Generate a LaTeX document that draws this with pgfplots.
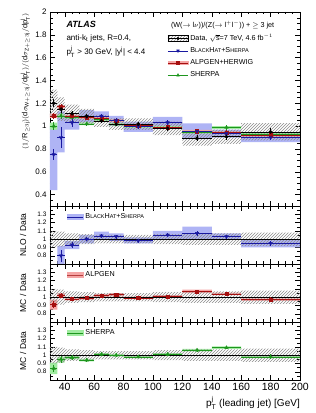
\documentclass[border=0pt]{standalone}
\usepackage{fontspec}
\setmainfont{Liberation Sans}
\usepackage{amsmath}
\usepackage{pgfplots}
\pgfplotsset{compat=1.18}
\usepackage{pgfplotstable}
\usepgfplotslibrary{fillbetween}
\usetikzlibrary{patterns}

\definecolor{bhblue}{RGB}{25,25,160}
\definecolor{bhband}{RGB}{175,180,245}
\definecolor{alpred}{RGB}{165,15,15}
\definecolor{alpband}{RGB}{245,165,165}
\definecolor{shgreen}{RGB}{30,150,30}
\definecolor{shband}{RGB}{160,235,160}
\definecolor{hatch}{RGB}{140,140,140}

\newcommand{\smc}[1]{{\fontsize{5.5}{6}\selectfont #1}}
\newcommand{\BH}{B\smc{LACK}H\smc{AT}+S\smc{HERPA}}

% main panel points
\pgfplotstableread{
x ex data dstat alp astat bh bstat sh sstat
32.5 2.5 1.200 0.035 1.090 0.025 0.750 0.050 1.000 0.035
37.5 2.5 1.148 0.030 1.170 0.025 0.900 0.090 1.090 0.030
45 5 1.110 0.025 1.088 0.020 1.030 0.040 1.077 0.020
55 5 1.085 0.020 1.074 0.015 1.085 0.020 1.020 0.015
65 5 1.046 0.020 1.067 0.015 1.088 0.020 1.056 0.015
75 5 1.017 0.020 1.047 0.015 1.048 0.020 1.017 0.015
90 10 1.017 0.020 1.007 0.015 0.997 0.020 0.997 0.015
110 10 0.980 0.020 0.990 0.015 1.030 0.020 0.990 0.015
130 10 0.893 0.025 0.955 0.020 0.955 0.020 0.947 0.020
150 10 0.907 0.025 0.943 0.020 0.934 0.020 0.988 0.020
180 20 0.950 0.030 0.920 0.020 0.900 0.020 0.930 0.020
}\mainpts

% main panel bands (left bin edges, last row closes the last bin)
\pgfplotstableread{
xl dlo dhi blo bhi alo ahi slo shi
30 1.08 1.32 0.44 1.00 1.07 1.11 0.97 1.03
35 1.045 1.251 0.77 1.13 1.155 1.185 1.075 1.105
40 1.032 1.188 0.97 1.10 1.075 1.10 1.065 1.09
50 1.02 1.15 1.03 1.14 1.062 1.086 1.008 1.032
60 0.994 1.098 1.04 1.13 1.055 1.079 1.044 1.068
70 0.966 1.068 1.00 1.09 1.035 1.059 1.005 1.029
80 0.966 1.068 0.95 1.04 0.995 1.019 0.985 1.009
100 0.921 1.039 0.98 1.08 0.978 1.002 0.978 1.002
120 0.83 0.956 0.885 1.025 0.943 0.967 0.935 0.959
140 0.844 0.97 0.90 0.97 0.931 0.955 0.976 1.000
160 0.874 1.026 0.86 0.94 0.908 0.932 0.918 0.942
200 0.874 1.026 0.86 0.94 0.908 0.932 0.918 0.942
}\mainband

% ratio points
\pgfplotstableread{
x ex alp aerr sh serr
32.5 2.5 0.91 0.04 0.84 0.04
37.5 2.5 1.02 0.035 0.95 0.04
45 5 0.98 0.025 0.97 0.03
55 5 0.99 0.02 0.94 0.02
65 5 1.02 0.02 1.01 0.02
75 5 1.03 0.02 1.00 0.02
90 10 0.99 0.02 0.98 0.02
110 10 1.01 0.02 1.01 0.02
130 10 1.07 0.02 1.06 0.02
150 10 1.04 0.02 1.09 0.02
180 20 0.97 0.03 0.98 0.03
}\ratiopts
\pgfplotstableread{
x ex nlo nerr
37.5 2.5 0.80 0.07
45 5 0.93 0.035
55 5 1.00 0.025
65 5 1.04 0.025
75 5 1.03 0.025
90 10 0.98 0.02
110 10 1.05 0.025
130 10 1.07 0.03
150 10 1.03 0.025
180 20 0.95 0.03
}\nlopts

% ratio bands
\pgfplotstableread{
xl drlo drhi alo ahi slo shi
30 0.90 1.10 0.85 0.97 0.77 0.91
35 0.91 1.09 0.99 1.05 0.91 0.98
40 0.93 1.07 0.96 1.00 0.95 0.99
50 0.94 1.06 0.97 1.01 0.925 0.955
60 0.95 1.05 1.00 1.04 0.995 1.025
70 0.95 1.05 1.01 1.05 0.985 1.015
80 0.95 1.05 0.975 1.005 0.965 0.995
100 0.94 1.06 0.995 1.025 0.995 1.025
120 0.93 1.07 1.05 1.09 1.045 1.075
140 0.93 1.07 1.025 1.055 1.075 1.105
160 0.92 1.08 0.955 0.985 0.965 0.995
200 0.92 1.08 0.955 0.985 0.965 0.995
}\ratioband
\pgfplotstableread{
xl lo hi
35 0.65 0.92
40 0.88 0.98
50 0.95 1.05
60 0.99 1.09
70 0.98 1.07
80 0.95 1.02
100 1.00 1.10
120 0.99 1.15
140 0.99 1.07
160 0.90 1.00
200 0.90 1.00
}\nloband

\pgfplotsset{
  every axis/.append style={
    scale only axis, width=250pt, xmin=30, xmax=200,
    xtick={20,40,...,200}, minor x tick num=3,
    tick align=inside, major tick length=5pt, minor tick length=2.5pt,
    /pgf/number format/assume math mode=true,
    tick style={black, line width=0.4pt},
    axis line style={line width=0.5pt},
  },
  errs/.style={only marks, error bars/x dir=both, error bars/x explicit, error bars/y dir=both, error bars/y explicit, error bars/error mark=none},
  bandline/.style={const plot, draw=none, forget plot},
  ratio/.style={
    height=58pt, ymin=0.7, ymax=1.4,
    ytick={0.7,0.8,0.9,1,1.1,1.2,1.3,1.4},
    yticklabels={,0.8,0.9,1,1.1,1.2,1.3,},
    minor y tick num=1,
    yticklabel style={font=\fontsize{6.5}{7}\selectfont},
    ylabel style={at={(axis description cs:-0.108,0.5)}, anchor=center, font=\fontsize{8.5}{9}\selectfont},
    legend style={at={(axis description cs:0.066,0.81)}, anchor=west, draw=none, fill=none, inner sep=0pt,
      font=\fontsize{7.2}{8}\selectfont, /tikz/every even column/.append style={column sep=3pt}},
  },
}

\begin{document}
\begin{tikzpicture}
% ---------------- main panel ----------------
\begin{axis}[at={(0pt,174pt)}, anchor=south west, height=194pt,
  ymin=0.3, ymax=2, ytick={0.2,0.4,...,2.0}, minor y tick num=3,
  xticklabels={},
  yticklabel style={font=\fontsize{8}{9}\selectfont},
  ylabel={$(1/\text{R}_{\geq 3\text{j}})(\text{d}\sigma_{\text{W}+\geq 3\text{j}}/\text{dp}^{\text{j}}_{\text{T}})/(\text{d}\sigma_{\text{Z}+\geq 3\text{j}}/\text{dp}^{\text{j}}_{\text{T}})$},
  ylabel style={at={(axis description cs:-0.1,1.01)}, anchor=east, font=\fontsize{7.5}{8}\selectfont},
  legend style={at={(axis description cs:0.47,0.895)}, anchor=north west, draw=none, fill=none, inner sep=0pt,
    font=\fontsize{7.2}{8}\selectfont, row sep=1.4pt, legend cell align=left,
    /tikz/every even column/.append style={column sep=3pt}},
]
\addlegendimage{legend image code/.code={
  \fill[pattern=north east lines, pattern color=hatch] (0pt,-3pt) rectangle (20pt,3pt);
  \draw[black, line width=0.6pt] (0pt,0pt)--(20pt,0pt);
  \fill[black] (10pt,0pt) circle (1.4pt);}}
\addlegendentry{Data, $\sqrt{\text{s}}$=7 TeV, 4.6 fb$^{-1}$}
\addlegendimage{legend image code/.code={
  \draw[bhblue, line width=0.6pt] (0pt,0pt)--(20pt,0pt);
  \fill[bhblue] (8.6pt,1.2pt)--(11.4pt,1.2pt)--(10pt,-1.4pt)--cycle;}}
\addlegendentry{\BH}
\addlegendimage{legend image code/.code={
  \fill[alpband] (0pt,-1.6pt) rectangle (20pt,1.6pt);
  \draw[alpred, line width=0.5pt] (0pt,0pt)--(20pt,0pt);
  \fill[alpred] (8.5pt,-1.5pt) rectangle (11.5pt,1.5pt);}}
\addlegendentry{ALPGEN+HERWIG}
\addlegendimage{legend image code/.code={
  \draw[shgreen, line width=0.6pt] (0pt,0pt)--(20pt,0pt);
  \fill[shgreen] (8.6pt,-1.2pt)--(11.4pt,-1.2pt)--(10pt,1.4pt)--cycle;}}
\addlegendentry{SHERPA}

\addplot[bandline, name path=bl] table[x=xl,y=blo]{\mainband};
\addplot[bandline, name path=bh] table[x=xl,y=bhi]{\mainband};
\addplot[fill=bhband, draw=none, forget plot] fill between[of=bl and bh];
\addplot[bandline, name path=al] table[x=xl,y=alo]{\mainband};
\addplot[bandline, name path=ah] table[x=xl,y=ahi]{\mainband};
\addplot[fill=alpband, draw=none, forget plot] fill between[of=al and ah];
\addplot[bandline, name path=sl] table[x=xl,y=slo]{\mainband};
\addplot[bandline, name path=sh] table[x=xl,y=shi]{\mainband};
\addplot[fill=shband, draw=none, forget plot] fill between[of=sl and sh];
\addplot[bandline, name path=dl] table[x=xl,y=dlo]{\mainband};
\addplot[bandline, name path=dh] table[x=xl,y=dhi]{\mainband};
\addplot[pattern=north east lines, pattern color=hatch, draw=none, forget plot] fill between[of=dl and dh];

\addplot[errs, forget plot, shgreen, mark=triangle*, mark size=2pt, error bars/error bar style={shgreen, line width=0.6pt}]
  table[x=x, y=sh, x error=ex, y error=sstat]{\mainpts};
\addplot[errs, forget plot, alpred, mark=square*, mark size=1.6pt, error bars/error bar style={alpred, line width=0.6pt}]
  table[x=x, y=alp, x error=ex, y error=astat]{\mainpts};
\addplot[errs, forget plot, bhblue, mark=triangle*, mark size=2pt, mark options={rotate=180}, error bars/error bar style={bhblue, line width=0.6pt}]
  table[x=x, y=bh, x error=ex, y error=bstat]{\mainpts};
\addplot[errs, forget plot, black, mark=*, mark size=1.7pt, error bars/error bar style={black, line width=0.6pt}]
  table[x=x, y=data, x error=ex, y error=dstat]{\mainpts};

\node[anchor=west, font=\fontsize{9}{10}\selectfont\bfseries\itshape] at (axis description cs:0.052,0.938) {ATLAS};
\node[anchor=west, font=\fontsize{8}{9}\selectfont] at (axis description cs:0.052,0.866) {anti-k$_{\text{t}}$ jets, R=0.4,};
\node[anchor=west, font=\fontsize{8}{9}\selectfont] at (axis description cs:0.052,0.794) {p$^{\text{j}}_{\text{T}}$ > 30 GeV, |y$^{\text{j}}$| < 4.4};
\node[anchor=west, font=\fontsize{7.2}{8}\selectfont] at (axis description cs:0.47,0.933) {(W($\rightarrow$ l$\nu$))/(Z($\rightarrow$ l$^{+}$l$^{-}$)) + $\geq$ 3 jet};
\end{axis}

% ---------------- NLO / Data ----------------
\begin{axis}[ratio, at={(0pt,116pt)}, anchor=south west, xticklabels={}, ylabel={NLO / Data}]
\addlegendimage{legend image code/.code={
  \fill[bhband] (0pt,-2.6pt) rectangle (16pt,2.6pt);
  \draw[bhblue, line width=0.8pt] (0pt,0pt)--(16pt,0pt);}}
\addlegendentry{\BH}
\addplot[bandline, name path=nl] table[x=xl,y=lo]{\nloband};
\addplot[bandline, name path=nh] table[x=xl,y=hi]{\nloband};
\addplot[fill=bhband, draw=none, forget plot] fill between[of=nl and nh];
\addplot[bandline, name path=rl] table[x=xl,y=drlo]{\ratioband};
\addplot[bandline, name path=rh] table[x=xl,y=drhi]{\ratioband};
\addplot[pattern=north east lines, pattern color=hatch, draw=none, forget plot] fill between[of=rl and rh];
\addplot[black, line width=0.6pt, forget plot] coordinates {(30,1) (200,1)};
\addplot[errs, forget plot, bhblue, mark=triangle*, mark size=2pt, mark options={rotate=180}, error bars/error bar style={bhblue, line width=0.6pt}]
  table[x=x, y=nlo, x error=ex, y error=nerr]{\nlopts};
\end{axis}

% ---------------- ALPGEN / Data ----------------
\begin{axis}[ratio, at={(0pt,58pt)}, anchor=south west, xticklabels={}, ylabel={MC / Data}]
\addlegendimage{legend image code/.code={
  \fill[alpband] (0pt,-2.6pt) rectangle (16pt,2.6pt);
  \draw[alpred!80, line width=0.8pt] (0pt,0pt)--(16pt,0pt);}}
\addlegendentry{ALPGEN}
\addplot[bandline, name path=al2] table[x=xl,y=alo]{\ratioband};
\addplot[bandline, name path=ah2] table[x=xl,y=ahi]{\ratioband};
\addplot[fill=alpband, draw=none, forget plot] fill between[of=al2 and ah2];
\addplot[bandline, name path=rl2] table[x=xl,y=drlo]{\ratioband};
\addplot[bandline, name path=rh2] table[x=xl,y=drhi]{\ratioband};
\addplot[pattern=north east lines, pattern color=hatch, draw=none, forget plot] fill between[of=rl2 and rh2];
\addplot[black, line width=0.6pt, forget plot] coordinates {(30,1) (200,1)};
\addplot[errs, forget plot, alpred, mark=square*, mark size=1.6pt, error bars/error bar style={alpred, line width=0.6pt}]
  table[x=x, y=alp, x error=ex, y error=aerr]{\ratiopts};
\end{axis}

% ---------------- SHERPA / Data ----------------
\begin{axis}[ratio, at={(0pt,0pt)}, anchor=south west, ylabel={MC / Data},
  xticklabel style={font=\fontsize{10.5}{11}\selectfont},
  xlabel={p$^{\text{j}}_{\text{T}}$ (leading jet) [GeV]},
  xlabel style={at={(axis description cs:1,-0.45)}, anchor=base east, font=\fontsize{10}{11}\selectfont, inner sep=0pt},
]
\addlegendimage{legend image code/.code={
  \fill[shband] (0pt,-2.6pt) rectangle (16pt,2.6pt);
  \draw[shgreen, line width=0.8pt] (0pt,0pt)--(16pt,0pt);}}
\addlegendentry{SHERPA}
\addplot[bandline, name path=sl2] table[x=xl,y=slo]{\ratioband};
\addplot[bandline, name path=sh2] table[x=xl,y=shi]{\ratioband};
\addplot[fill=shband, draw=none, forget plot] fill between[of=sl2 and sh2];
\addplot[bandline, name path=rl3] table[x=xl,y=drlo]{\ratioband};
\addplot[bandline, name path=rh3] table[x=xl,y=drhi]{\ratioband};
\addplot[pattern=north east lines, pattern color=hatch, draw=none, forget plot] fill between[of=rl3 and rh3];
\addplot[black, line width=0.6pt, forget plot] coordinates {(30,1) (200,1)};
\addplot[errs, forget plot, shgreen, mark=triangle*, mark size=2pt, error bars/error bar style={shgreen, line width=0.6pt}]
  table[x=x, y=sh, x error=ex, y error=serr]{\ratiopts};
\end{axis}

\pgfresetboundingbox
\path[use as bounding box] (-50pt,-33pt) rectangle (266pt,380pt);
\end{tikzpicture}
\end{document}
